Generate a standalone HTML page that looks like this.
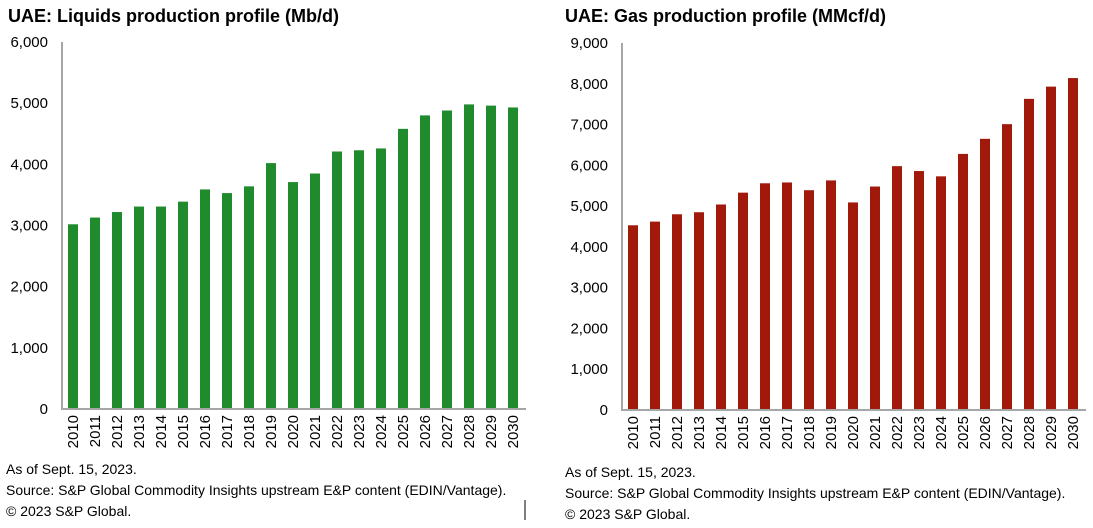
<!DOCTYPE html>
<html><head><meta charset="utf-8"><style>
body{margin:0;background:#fff;width:1093px;height:528px;overflow:hidden;font-family:"Liberation Sans",Arial,sans-serif}
svg{position:absolute;left:0;top:0}
</style></head><body>
<svg width="1093" height="528">
<text x="8" y="22" font-size="18" font-weight="bold" fill="#000">UAE: Liquids production profile (Mb/d)</text>
<text x="565" y="22" font-size="18" font-weight="bold" fill="#000">UAE: Gas production profile (MMcf/d)</text>
<g id="left"></g>
<g id="right"></g>
<g font-size="14" fill="#000">
<text x="6" y="474">As of Sept. 15, 2023.</text>
<text x="6" y="495">Source: S&amp;P Global Commodity Insights upstream E&amp;P content (EDIN/Vantage).</text>
<text x="6" y="516">© 2023 S&amp;P Global.</text>
<text x="565" y="477">As of Sept. 15, 2023.</text>
<text x="565" y="498">Source: S&amp;P Global Commodity Insights upstream E&amp;P content (EDIN/Vantage).</text>
<text x="565" y="519">© 2023 S&amp;P Global.</text>
</g>
<line x1="525" y1="500" x2="525" y2="520" stroke="#000" stroke-width="1"/>
</svg>
<script>
const years=["2010","2011","2012","2013","2014","2015","2016","2017","2018","2019","2020","2021","2022","2023","2024","2025","2026","2027","2028","2029","2030"];
const liquids=[3020,3130,3220,3310,3310,3390,3590,3530,3640,4020,3710,3850,4210,4230,4260,4580,4800,4880,4980,4960,4930];
const gas=[4530,4620,4800,4850,5040,5330,5560,5580,5390,5630,5090,5480,5980,5860,5730,6280,6650,7010,7630,7930,8140];
const liquidTicks=[0,1000,2000,3000,4000,5000,6000];
const gasTicks=[0,1000,2000,3000,4000,5000,6000,7000,8000,9000];
const NS="http://www.w3.org/2000/svg";
function mk(p,t,a){const e=document.createElementNS(NS,t);for(const k in a)e.setAttribute(k,a[k]);p.appendChild(e);return e;}
function draw(g,vals,ticks,axX,y0,yTop,max,color,prefix,bw){
  const y=v=>y0-(v/max)*(y0-yTop);
  const x=i=>axX+11+i*22;
  ticks.forEach(t=>{
    const tx=mk(g,'text',{x:axX-14,y:y(t)+5,'text-anchor':'end','font-size':'15',fill:'#000'});
    tx.textContent=t.toLocaleString('en-US');
    
    
  });
  vals.forEach((v,i)=>{
    const r=mk(g,'rect',{x:x(i)-bw/2,y:y(v),width:bw,height:y0-y(v),fill:color});
    
    
    const lb=mk(g,'text',{transform:`translate(${x(i)+5},${y0+6}) rotate(-90)`,'text-anchor':'end','font-size':'15',fill:'#000'});
    lb.textContent=years[i];
    
    
  });
  const ax=mk(g,'path',{d:`M${axX},${yTop} V${y0} H${axX+22*years.length+2}`,stroke:'#a6a6a6','stroke-width':2,fill:'none'});
  
  
}
draw(document.getElementById('left'),liquids,liquidTicks,62,409,42,6000,'#1f8b2c','liquids',10);
draw(document.getElementById('right'),gas,gasTicks,622,410,43,9000,'#a0190a','gas',10);
</script>
</body></html>
